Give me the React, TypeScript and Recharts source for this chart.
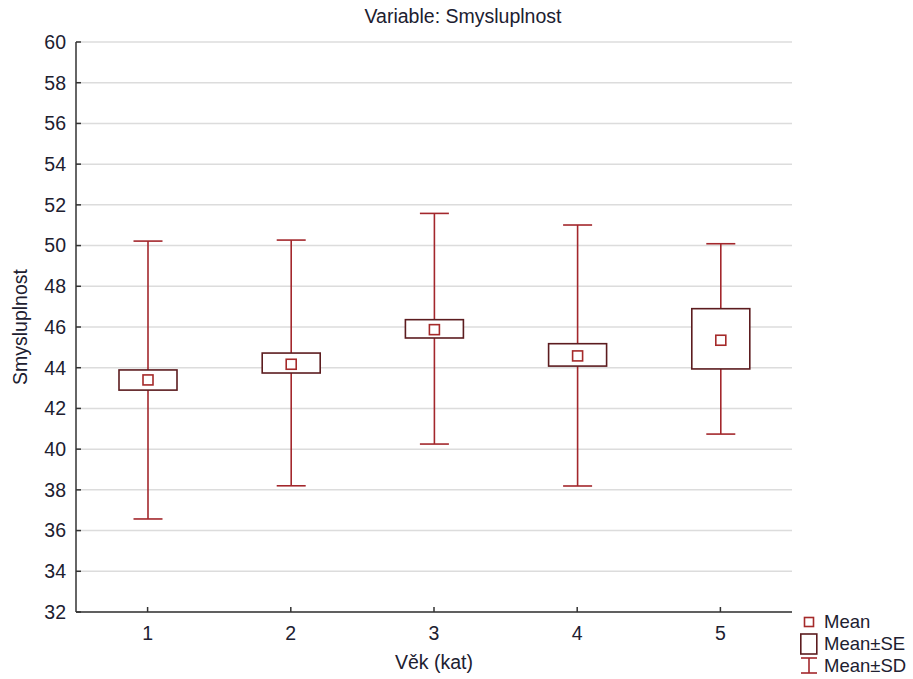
import React from "react";
import { ComposedChart, Bar, Scatter, XAxis, YAxis, CartesianGrid } from "recharts";

const categories = ["1", "2", "3", "4", "5"];
const means = [43.4, 44.17, 45.87, 44.58, 45.35];
const seLow = [42.9, 43.74, 45.46, 44.08, 43.94];
const seHigh = [43.89, 44.72, 46.36, 45.18, 46.9];
const sdLow = [36.57, 38.2, 40.25, 38.19, 40.74];
const sdHigh = [50.22, 50.27, 51.58, 51.01, 50.09];
const yTicks = [32, 34, 36, 38, 40, 42, 44, 46, 48, 50, 52, 54, 56, 58, 60];

const data = categories.map((cat, i) => ({
  cat,
  mean: means[i],
  seLow: seLow[i],
  seHigh: seHigh[i],
  sdLow: sdLow[i],
  sdHigh: sdHigh[i],
  sdRange: [sdLow[i], sdHigh[i]],
}));

const WHISKER = "#a3272c";
const BOX = "#5c1c1f";
const MEAN = "#a52a2a";
const FONT = "'Liberation Sans', Arial, sans-serif";
const TEXT = "#202030";

// one shape per category: SD whiskers, SE box, mean square
const BoxShape = (props: any) => {
  const { x, y, width, height, payload } = props;
  if (payload == null) return null;
  const top = Math.min(y, y + height);
  const h = Math.abs(height);
  const k = h / (payload.sdHigh - payload.sdLow);
  const py = (v: number) => top + (payload.sdHigh - v) * k;
  const cx = x + width / 2;
  const capW = 29;
  const m = 10;
  return (
    <g>
      <line x1={cx} x2={cx} y1={py(payload.sdHigh)} y2={py(payload.seHigh)} stroke={WHISKER} strokeWidth={1.6} />
      <line x1={cx} x2={cx} y1={py(payload.seLow)} y2={py(payload.sdLow)} stroke={WHISKER} strokeWidth={1.6} />
      <line x1={cx - capW / 2} x2={cx + capW / 2} y1={py(payload.sdHigh)} y2={py(payload.sdHigh)} stroke={WHISKER} strokeWidth={1.6} />
      <line x1={cx - capW / 2} x2={cx + capW / 2} y1={py(payload.sdLow)} y2={py(payload.sdLow)} stroke={WHISKER} strokeWidth={1.6} />
      <rect
        x={x}
        y={py(payload.seHigh)}
        width={width}
        height={py(payload.seLow) - py(payload.seHigh)}
        fill="#fff"
        stroke={BOX}
        strokeWidth={1.6}
      />
      <rect x={cx - m / 2} y={py(payload.mean) - m / 2} width={m} height={m} fill="#fff" stroke={MEAN} strokeWidth={1.6} />
    </g>
  );
};

const LegendBox = () => (
  <div
    style={{
      position: "absolute",
      left: 797,
      top: 611,
      width: 116,
      fontFamily: FONT,
      fontSize: 18.5,
      color: TEXT,
      lineHeight: "22px",
    }}
  >
    <div style={{ display: "flex", alignItems: "center", height: 22 }}>
      <svg width={27} height={22}>
        <rect x={7.5} y={6.5} width={9} height={9} fill="#fff" stroke={MEAN} strokeWidth={1.6} />
      </svg>
      <span>Mean</span>
    </div>
    <div style={{ display: "flex", alignItems: "center", height: 22 }}>
      <svg width={27} height={22}>
        <rect x={3.8} y={1} width={16} height={20} fill="#fff" stroke={BOX} strokeWidth={1.6} />
      </svg>
      <span>Mean±SE</span>
    </div>
    <div style={{ display: "flex", alignItems: "center", height: 22 }}>
      <svg width={27} height={22}>
        <line x1={12} x2={12} y1={3} y2={18} stroke={WHISKER} strokeWidth={1.6} />
        <line x1={4} x2={20} y1={3} y2={3} stroke={WHISKER} strokeWidth={1.6} />
        <line x1={4} x2={20} y1={18} y2={18} stroke={WHISKER} strokeWidth={1.6} />
      </svg>
      <span>Mean±SD</span>
    </div>
  </div>
);

export default function App() {
  return (
    <div style={{ position: "absolute", left: 0, top: 0, width: 913, height: 679, background: "#fff" }}>
      <div
        style={{
          position: "absolute",
          left: 263,
          width: 400,
          top: 5,
          textAlign: "center",
          fontFamily: FONT,
          fontSize: 19.5,
          color: TEXT,
        }}
      >
        Variable: Smysluplnost
      </div>
      <ComposedChart
        width={913}
        height={679}
        data={data}
        margin={{ top: 42, right: 121, bottom: 7, left: 0 }}
        style={{ fontFamily: FONT }}
      >
        <CartesianGrid vertical={false} stroke="#dcdcdc" strokeWidth={1.5} />
        <XAxis
          dataKey="cat"
          height={60}
          stroke="#333"
          strokeWidth={1.5}
          tickSize={-5}
          tickMargin={19}
          tick={{ fill: TEXT, fontSize: 19.5 }}
          label={{ value: "Věk (kat)", position: "insideBottom", offset: 3, fill: TEXT, fontSize: 19.5 }}
        />
        <XAxis xAxisId="top" dataKey="cat" orientation="top" height={0} stroke="#333" strokeWidth={1.5} tickSize={-5} tick={false} />
        <YAxis
          domain={[32, 60]}
          ticks={yTicks}
          width={76}
          stroke="#333"
          strokeWidth={1.5}
          tickSize={-5}
          tickMargin={15}
          interval={0}
          tick={{ fill: TEXT, fontSize: 19.5 }}
          label={{
            value: "Smysluplnost",
            angle: -90,
            position: "insideLeft",
            offset: 20,
            fill: TEXT,
            fontSize: 19.5,
            style: { textAnchor: "middle" },
          }}
        />
        <YAxis
          yAxisId="right"
          orientation="right"
          domain={[32, 60]}
          ticks={yTicks}
          width={0}
          stroke="#444"
          strokeWidth={2}
          tickSize={-5}
          tick={false}
        />
        <Bar dataKey="sdRange" barSize={58} shape={BoxShape} isAnimationActive={false} />
        <Scatter xAxisId="top" yAxisId="right" dataKey="mean" shape={() => null} isAnimationActive={false} />
      </ComposedChart>
      <LegendBox />
    </div>
  );
}
